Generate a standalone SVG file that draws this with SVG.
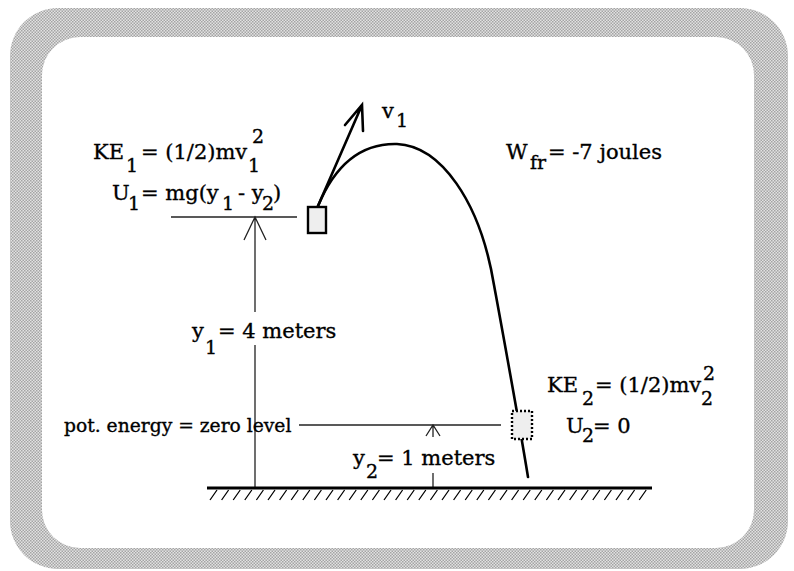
<svg xmlns="http://www.w3.org/2000/svg" width="794" height="571" viewBox="0 0 794 571">
<style>
text{font-family:"DejaVu Serif","Liberation Serif",serif;font-size:21px;fill:#000;stroke:#000;stroke-width:0.35}
.s{font-size:19px}
.sm{font-size:18.7px}
.thin{stroke:#222;stroke-width:1.3;fill:none}
.thick{stroke:#000;stroke-width:2.6;fill:none;stroke-linecap:round}
</style>
<defs>
<pattern id="dots" width="3" height="3" patternUnits="userSpaceOnUse">
<rect width="3" height="3" fill="#e2e2e2"/>
<rect width="1.5" height="1.5" fill="#a4a4a4"/>
<rect x="1.5" y="1.5" width="1.5" height="1.5" fill="#a4a4a4"/>
</pattern>
</defs>
<rect width="794" height="571" fill="#fff"/>
<g id="frame">
<path fill="url(#dots)" fill-rule="evenodd" d="M58,8 H740 A48,48 0 0 1 788,56 V521 A48,48 0 0 1 740,569 H58 A48,48 0 0 1 10,521 V56 A48,48 0 0 1 58,8 Z M80,37 A38,38 0 0 0 42,75 V510 A38,38 0 0 0 80,548 H716 A38,38 0 0 0 754,510 V75 A38,38 0 0 0 716,37 Z"/>
</g>
<g id="connectors">
<path id="trajectory" class="thick" d="M318,206 C335,165 360,143 397,144 C440,146 480,200 494,285 C505,345 517,410 528,477"/>
<path id="velocity" class="thick" d="M318,206 L362,105 M345,125 L362,105 L363,131"/>
<path class="thin" d="M171,217 H297"/>
<path class="thin" d="M255,217 V312 M255,345 V488 M244,240 L255,217 L266,240"/>
<path class="thin" d="M299,425 H501"/>
<path class="thin" d="M433,425 V437 M426,436 L433,425 L440,436 M433,473 V488"/>
</g>
<g id="ground">
<path stroke="#000" stroke-width="3" d="M207,488 H652"/>
<path stroke="#000" stroke-width="1.3" d="M210,500 L217,490 M221.6,500 L228.6,490 M233.2,500 L240.2,490 M244.8,500 L251.8,490 M256.4,500 L263.4,490 M268,500 L275,490 M279.6,500 L286.6,490 M291.2,500 L298.2,490 M302.8,500 L309.8,490 M314.4,500 L321.4,490 M326,500 L333,490 M337.6,500 L344.6,490 M349.2,500 L356.2,490 M360.8,500 L367.8,490 M372.4,500 L379.4,490 M384,500 L391,490 M395.6,500 L402.6,490 M407.2,500 L414.2,490 M418.8,500 L425.8,490 M430.4,500 L437.4,490 M442,500 L449,490 M453.6,500 L460.6,490 M465.2,500 L472.2,490 M476.8,500 L483.8,490 M488.4,500 L495.4,490 M500,500 L507,490 M511.6,500 L518.6,490 M523.2,500 L530.2,490 M534.8,500 L541.8,490 M546.4,500 L553.4,490 M558,500 L565,490 M569.6,500 L576.6,490 M581.2,500 L588.2,490 M592.8,500 L599.8,490 M604.4,500 L611.4,490 M616,500 L623,490 M627.6,500 L634.6,490 M639.2,500 L646.2,490"/>
</g>
<g id="block1">
<rect x="308" y="207" width="18" height="26" fill="#eeeeee" stroke="#000" stroke-width="2.4"/>
</g>
<g id="block2">
<rect x="512" y="411" width="20" height="28" fill="#eeeeee" stroke="#000" stroke-width="2.4" stroke-dasharray="2,2"/>
</g>
<g id="label-ke1">
<text x="93" y="159">KE</text><text class="s" x="126" y="172">1</text>
<text x="141" y="159">= (1/2)mv</text><text class="s" x="248" y="172">1</text><text class="s" x="252" y="143">2</text>
</g>
<g id="label-u1">
<text x="112" y="200">U</text><text class="s" x="128" y="210">1</text>
<text x="141" y="200">= mg(y</text><text class="s" x="222" y="210">1</text>
<text x="238" y="200">- y</text><text class="s" x="262" y="210">2</text><text x="273" y="200">)</text>
</g>
<g id="label-v1">
<text x="382" y="118">v</text><text class="s" x="396" y="127">1</text>
</g>
<g id="label-wfr">
<text x="506" y="159">W</text><text class="s" x="530" y="169">fr</text><text x="548" y="159">= -7 joules</text>
</g>
<g id="label-y1">
<text x="192" y="338">y</text><text class="s" x="205" y="354">1</text><text x="218" y="338">= 4 meters</text>
</g>
<g id="label-zero">
<text class="sm" x="64" y="432">pot. energy = zero level</text>
</g>
<g id="label-y2">
<text x="353" y="465">y</text><text class="s" x="366" y="478">2</text><text x="377" y="465">= 1 meters</text>
</g>
<g id="label-ke2">
<text x="547" y="392">KE</text><text class="s" x="582" y="405">2</text>
<text x="595" y="392">= (1/2)mv</text><text class="s" x="701" y="405">2</text><text class="s" x="703" y="380">2</text>
</g>
<g id="label-u2">
<text x="566" y="433">U</text><text class="s" x="582" y="442">2</text><text x="593" y="433">= 0</text>
</g>
</svg>
